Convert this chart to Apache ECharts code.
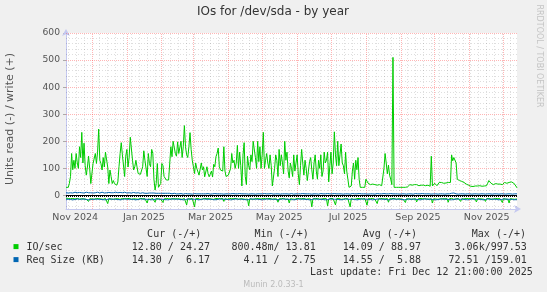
<!DOCTYPE html>
<html><head><meta charset="utf-8">
<script src="https://cdn.jsdelivr.net/npm/echarts@6/dist/echarts.min.js"></script>
<style>html,body{margin:0;padding:0;background:#f0f0f0}#c{width:547px;height:292px}</style>
</head><body><div id="c"></div>
<script>
// ---- time frame (daily points, 400 days ending Fri Dec 12 21:00 2025) ----
const startDate = Date.UTC(2024, 10, 7, 21, 0, 0);
const DAY = 86400000;
const endDate = startDate + 400 * DAY;

// ---- IO/sec write (+) ----
const ioWrite = [30,32,30,45,70,155,95,130,100,155,120,
100,180,140,233,120,193,110,75,105,145,
100,44,40,118,120,155,118,160,245,130,
118,94,140,105,160,165,105,44,94,70,
44,55,44,50,38,50,106,155,195,150,
143,70,145,170,105,140,215,215,130,94,
106,130,105,81,78,78,80,106,165,130,
130,70,155,118,106,170,155,60,20,44,
118,30,30,44,118,110,70,70,57,57,
57,57,180,143,200,193,155,145,198,155,
160,200,140,180,258,180,150,140,180,232,
170,130,106,81,120,100,94,75,81,120,
94,106,69,69,106,81,69,65,90,68,
115,106,143,155,175,106,94,94,90,180,
90,70,70,75,80,100,155,120,130,100,
120,185,100,160,110,35,150,195,70,40,
145,110,95,150,125,200,205,140,100,200,
125,180,100,150,233,100,130,155,120,100,
150,110,35,35,100,150,130,70,170,110,
150,120,80,200,130,160,90,65,120,100,
70,150,90,120,150,80,40,110,170,120,
75,130,100,55,90,125,140,95,60,120,
150,90,60,130,100,150,70,90,160,120,
130,160,50,110,160,80,120,235,150,110,
200,110,150,190,120,110,80,160,90,60,
30,30,35,90,120,60,130,95,140,60,
30,30,30,32,30,60,55,45,40,40,
40,42,40,40,38,38,40,40,38,36,
40,100,155,120,80,112,75,60,40,510,
30,30,30,30,30,30,30,30,30,30,
30,30,32,38,40,40,38,36,40,42,
40,38,36,40,38,34,38,36,36,35,
38,36,34,145,35,30,45,40,36,40,
48,45,48,48,45,47,46,48,48,46,
48,150,128,140,135,120,60,55,55,52,
52,50,48,45,42,40,38,36,34,35,
33,34,35,33,35,34,36,35,34,36,
35,38,36,45,55,52,45,42,40,42,
44,40,42,38,42,44,40,46,48,50,
45,52,48,46,50,44,46,40,35,28];

// ---- IO/sec read (-) ----
const ioRead = [10,12,11,13,12,14,11,12,13,12,11,
12,14,13,12,11,13,12,14,15,22,
12,11,13,12,14,12,11,13,12,14,
13,12,14,12,11,13,30,12,11,13,
12,14,13,12,11,12,13,14,12,11,
13,12,14,12,13,11,12,14,13,12,
11,13,12,14,12,11,13,12,14,12,
11,28,13,12,14,12,11,13,25,12,
13,12,11,14,12,26,13,12,11,13,
12,14,13,11,12,13,12,14,12,11,
13,12,14,12,11,13,35,12,14,13,
12,11,14,42,12,13,11,12,14,12,
13,12,11,14,12,13,12,11,13,12,
14,12,11,13,12,14,12,13,11,22,
12,13,14,12,11,13,12,14,12,13,
11,12,14,13,12,11,13,12,14,12,
13,38,12,11,14,12,13,12,11,13,
12,14,13,12,11,13,12,14,12,13,
11,12,14,13,12,11,13,25,12,14,
12,13,11,12,14,12,13,28,12,11,
13,12,14,12,11,13,12,14,12,13,
11,12,14,13,12,11,13,42,12,14,
12,13,11,12,14,12,13,12,11,13,
12,38,14,12,11,13,12,14,35,12,
13,11,12,14,12,13,11,12,14,12,
13,42,12,11,14,12,13,12,11,13,
12,14,13,12,11,13,36,12,14,12,
13,11,12,14,12,30,13,12,11,13,
12,14,13,12,11,25,12,14,12,13,
11,12,14,13,12,11,13,12,14,12,
26,12,11,13,12,14,12,13,11,12,
24,13,12,11,14,12,13,12,11,13,
12,14,13,12,28,12,11,13,12,14,
12,13,11,12,14,12,13,12,25,12,
13,11,12,14,12,13,12,11,13,22,
12,14,13,12,11,13,12,14,12,13,
11,12,14,24,12,13,12,11,13,12,
14,22,12,13,11,12,14,12,13,12,
11,13,12,14,12,13,26,12,11,13,
12,14,28,12,11,13,12,14,12,13];

// ---- Req Size (KB) write (+) ----
const reqWrite = [10,11,9,12,10,11,9,10,12,11,10,
9,11,12,10,11,9,10,12,11,10,
11,10,12,9,11,10,11,12,10,9,
11,12,10,9,11,10,12,11,9,10,
11,10,9,12,11,10,9,11,12,10,
11,12,10,9,11,10,11,9,10,11,
10,9,11,10,9,8,9,10,9,8,
9,8,10,9,8,9,8,9,10,8,
9,8,7,8,9,8,7,8,7,8,
7,8,7,6,7,8,7,6,7,6,
6,7,6,5,6,7,6,6,5,6,
6,5,6,7,6,6,5,6,7,6,
7,6,5,6,6,7,6,5,6,6,
6,7,6,6,5,6,7,6,6,5,
6,6,7,6,5,6,6,7,6,6,
5,6,6,7,6,6,5,6,7,6,
6,5,6,6,7,6,6,5,6,6,
7,6,5,6,6,7,6,6,5,6,
6,7,6,5,6,6,7,6,6,5,
6,6,5,6,7,6,6,5,6,7,
6,5,6,6,7,6,5,6,6,7,
6,6,5,6,7,6,6,5,6,6,
7,6,6,5,6,7,6,6,5,6,
6,7,9,6,5,6,6,7,6,6,
5,6,7,6,6,5,6,6,7,6,
6,5,6,7,6,6,5,6,6,7,
6,6,5,6,7,6,6,5,6,6,
7,6,6,5,6,7,6,6,5,6,
6,7,6,6,5,6,6,7,6,6,
5,6,7,6,6,5,6,6,7,6,
6,5,6,6,7,6,6,5,6,7,
6,6,5,6,6,7,6,6,5,6,
7,6,6,5,6,6,7,6,6,5,
6,6,7,6,6,5,6,6,7,6,
6,8,9,9,8,6,6,5,6,6,
7,6,6,5,6,6,7,6,6,5,
6,6,7,6,6,5,6,6,7,6,
6,5,6,6,7,6,6,5,6,6,
7,6,6,5,6,6,7,6,6,5,
6,6,7,6,6,5,6,6,7,6];

// ---- Req Size (KB) read (-) ----
const reqRead = [14,15,14,13,15,14,16,14,15,14,13,
15,14,16,14,15,13,14,15,14,16,
14,15,13,14,15,14,16,14,15,14,
13,15,14,16,14,15,14,13,15,14,
16,14,15,14,13,15,14,16,14,15,
14,13,15,14,16,14,15,14,13,15,
14,16,14,15,14,13,15,14,16,14,
15,14,13,15,14,16,14,15,14,13,
15,14,16,14,15,14,13,15,14,16,
14,15,14,13,15,14,16,14,15,14,
13,15,14,16,14,15,14,13,15,14,
16,14,15,14,13,15,14,16,14,15,
14,13,15,14,16,14,15,14,13,15,
14,16,14,15,14,13,15,14,16,14,
15,14,13,15,14,16,14,15,14,13,
15,14,16,14,15,14,13,15,14,16,
14,15,14,13,15,14,16,14,15,14,
13,15,14,16,14,15,14,13,15,14,
16,14,15,14,13,15,14,16,14,15,
14,13,15,14,16,14,15,14,13,15,
14,16,14,15,14,13,15,14,16,14,
15,14,13,15,14,16,14,15,14,13,
15,14,16,14,15,14,13,15,14,16,
14,15,14,13,15,14,16,14,15,14,
13,15,14,16,14,15,14,13,15,14,
16,14,15,14,13,15,14,16,14,15,
14,13,15,14,16,14,15,14,13,15,
14,16,14,15,14,13,15,14,16,14,
15,14,13,15,14,16,14,15,14,13,
15,14,16,14,15,14,13,15,14,16,
14,15,14,13,15,14,16,14,15,14,
13,15,14,16,14,15,14,13,15,14,
16,14,15,14,13,15,14,16,14,15,
14,13,15,14,16,14,15,14,13,15,
14,16,14,15,14,13,15,14,16,14,
15,14,13,15,14,16,14,15,14,13,
15,14,16,14,15,14,13,15,14,16,
14,15,14,13,15,14,16,14,15,14,
13,15,14,16,14,15,14,13,15,14,
16,14,15,14,13,15,14,16,14,15];

// ---- axis labels ----
const xLabelMonths = [[2024,10,'Nov 2024'],[2025,0,'Jan 2025'],[2025,2,'Mar 2025'],[2025,4,'May 2025'],[2025,6,'Jul 2025'],[2025,8,'Sep 2025'],[2025,10,'Nov 2025']];
const yLabels = [0,100,200,300,400,500,600];
const yMinor = [-40,-20,20,40,60,80,120,140,160,180,220,240,260,280,320,340,360,380,420,440,460,480,520,540,560,580];

// ---- legend table ----
const legendNames = ['IO/sec','Req Size (KB)'];
const legendColors = ['#00cc00','#0066b3'];
const curText = ['12.80 / 24.27','14.30 /  6.17'];
const minText = ['800.48m/ 13.81','4.11 /  2.75'];
const avgText = ['14.09 / 88.97','14.55 /  5.88'];
const maxText = ['3.06k/997.53','72.51 /159.01'];
const headers = ['Cur (-/+)','Min (-/+)','Avg (-/+)','Max (-/+)'];

// plot frame
const G = {left: 66, top: 33, width: 451, height: 176};
const Y_MIN = -50, Y_MAX = 600;

// grid helpers (month starts red, Sundays grey) - snapped to pixel centres for crisp dotted lines
const snapT = t => { const px = G.left + (t - startDate) / (endDate - startDate) * G.width; const s = Math.floor(px) + 0.5; return startDate + (s - G.left) / G.width * (endDate - startDate); };
const snapV = v => { const py = G.top + (Y_MAX - v) / (Y_MAX - Y_MIN) * G.height; const s = Math.floor(py) + 0.5; return Y_MAX - (s - G.top) / G.height * (Y_MAX - Y_MIN); };
const monthLines = [];
for (let y = 2024, m = 11; ; m++) {
  if (m > 11) { m = 0; y++; }
  const t = Date.UTC(y, m, 1);
  if (t > endDate) break;
  monthLines.push(t);
}
const weekLines = [];
for (let t = Date.UTC(2024, 10, 10); t < endDate; t += 7 * DAY) weekLines.push(t);
const labelTimes = xLabelMonths.map(a => Date.UTC(a[0], a[1], 16));
const labelMap = {};
labelTimes.forEach((t, i) => labelMap[t] = xLabelMonths[i][2]);

const toXY = (arr, sign) => arr.map((v, i) => [startDate + i * DAY, sign * v]);

const grey = 'rgba(0,0,0,0.13)';
const red = 'rgba(255,60,60,0.38)';
const gridLines = [];
weekLines.forEach(t => { if (monthLines.indexOf(t) < 0) gridLines.push({xAxis: snapT(t), lineStyle: {color: grey, type: [1, 2], width: 1}}); });
yMinor.forEach(v => gridLines.push({yAxis: snapV(v), lineStyle: {color: grey, type: [1, 2], width: 1}}));
monthLines.forEach(t => gridLines.push({xAxis: snapT(t), lineStyle: {color: red, type: [1, 1], width: 1}}));
yLabels.forEach(v => gridLines.push({yAxis: snapV(v), lineStyle: {color: red, type: [1, 1], width: 1}}));

const chart = echarts.init(document.getElementById('c'), null, {renderer: 'canvas'});
const mono = '10px "DejaVu Sans Mono"';
const graphics = [
  {type: 'rect', shape: {x: G.left, y: G.top, width: G.width, height: G.height}, style: {fill: '#ffffff'}, z: -10, silent: true},
  {type: 'text', x: 273, y: 12, style: {text: 'IOs for /dev/sda - by year', font: '12px "DejaVu Sans"', fill: '#333', textAlign: 'center', textVerticalAlign: 'middle'}},
  {type: 'text', x: 10.5, y: 119, rotation: Math.PI / 2, style: {text: 'Units read (-) / write (+)', font: '11px "DejaVu Sans"', fill: '#555', textAlign: 'center', textVerticalAlign: 'middle'}},
  {type: 'text', x: 539, y: 56, rotation: -Math.PI / 2, style: {text: 'RRDTOOL / TOBI OETIKER', font: '8px "DejaVu Sans"', fill: '#c4c4c4', textAlign: 'center', textVerticalAlign: 'middle'}},
  {type: 'text', x: 273.5, y: 284.5, style: {text: 'Munin 2.0.33-1', font: '8px "DejaVu Sans"', fill: '#bbb', textAlign: 'center', textVerticalAlign: 'middle'}},
  {type: 'text', x: 532.7, y: 272.6, style: {text: 'Last update: Fri Dec 12 21:00:00 2025', font: mono, fill: '#333', textAlign: 'right', textVerticalAlign: 'middle'}}
];
const headerRight = [201.3, 308.7, 416.9, 526];
headers.forEach((h, i) => graphics.push({type: 'text', x: headerRight[i], y: 234.6, style: {text: h, font: mono, fill: '#333', textAlign: 'right', textVerticalAlign: 'middle'}}));
const colRight = [210, 315.7, 421, 526.8];
const rowY = [247.1, 260.1];
legendNames.forEach((n, r) => {
  graphics.push({type: 'rect', shape: {x: 13.5, y: rowY[r] - 3, width: 5, height: 5}, style: {fill: legendColors[r]}});
  graphics.push({type: 'text', x: 26.5, y: rowY[r], style: {text: n, font: mono, fill: '#333', textAlign: 'left', textVerticalAlign: 'middle'}});
  [curText, minText, avgText, maxText].forEach((col, c) => graphics.push({type: 'text', x: colRight[c], y: rowY[r], style: {text: col[r], font: mono, fill: '#333', textAlign: 'right', textVerticalAlign: 'middle'}}));
});

const axisColor = '#c4c8f0';
chart.setOption({
  animation: false,
  backgroundColor: '#f0f0f0',
  grid: {left: G.left, right: 547 - G.left - G.width, top: G.top, bottom: 292 - G.top - G.height, containLabel: false},
  xAxis: {
    type: 'value', min: startDate, max: endDate,
    axisLine: {onZero: false, lineStyle: {color: axisColor, width: 1}, symbol: ['none', 'arrow'], symbolSize: [6, 7], symbolOffset: [0, 4]},
    axisTick: {show: false},
    splitLine: {show: false},
    axisLabel: {customValues: labelTimes, formatter: v => labelMap[v] || '', color: '#555', fontFamily: 'DejaVu Sans', fontSize: 9.5, margin: 4}
  },
  yAxis: {
    type: 'value', min: Y_MIN, max: Y_MAX,
    axisLine: {show: true, onZero: false, lineStyle: {color: axisColor, width: 1}, symbol: ['none', 'arrow'], symbolSize: [6, 7], symbolOffset: [0, 4]},
    axisTick: {show: true, customValues: yLabels, length: 3, lineStyle: {color: '#aaa'}},
    splitLine: {show: false},
    axisLabel: {customValues: yLabels, color: '#555', fontFamily: 'DejaVu Sans', fontSize: 9.2, margin: 6}
  },
  graphic: graphics,
  series: [
    {type: 'line', data: [], silent: true, z: 1,
     markLine: {silent: true, symbol: ['none', 'none'], label: {show: false}, z: 1, animation: false, data: gridLines}},
    {type: 'line', name: 'IO/sec read', data: toXY(ioRead, -1), showSymbol: false, symbol: 'none', lineStyle: {color: '#00cc00', width: 1}, z: 2},
    {type: 'line', name: 'IO/sec write', data: toXY(ioWrite, 1), showSymbol: false, symbol: 'none', lineStyle: {color: '#00cc00', width: 1}, z: 2},
    {type: 'line', name: 'Req read', data: toXY(reqRead, -1), showSymbol: false, symbol: 'none', lineStyle: {color: '#0066b3', width: 1}, z: 3},
    {type: 'line', name: 'Req write', data: toXY(reqWrite, 1), showSymbol: false, symbol: 'none', lineStyle: {color: '#0066b3', width: 1}, z: 3},
    {type: 'line', data: [], silent: true, z: 4,
     markLine: {silent: true, symbol: ['none', 'none'], label: {show: false}, z: 4, animation: false,
       data: [{yAxis: snapV(0), lineStyle: {color: '#000', type: 'solid', width: 1}}, {yAxis: snapV(0) - 650 / 176, lineStyle: {color: '#000', type: [1, 1], width: 1}}]}}
  ]
});
</script>
</body></html>
